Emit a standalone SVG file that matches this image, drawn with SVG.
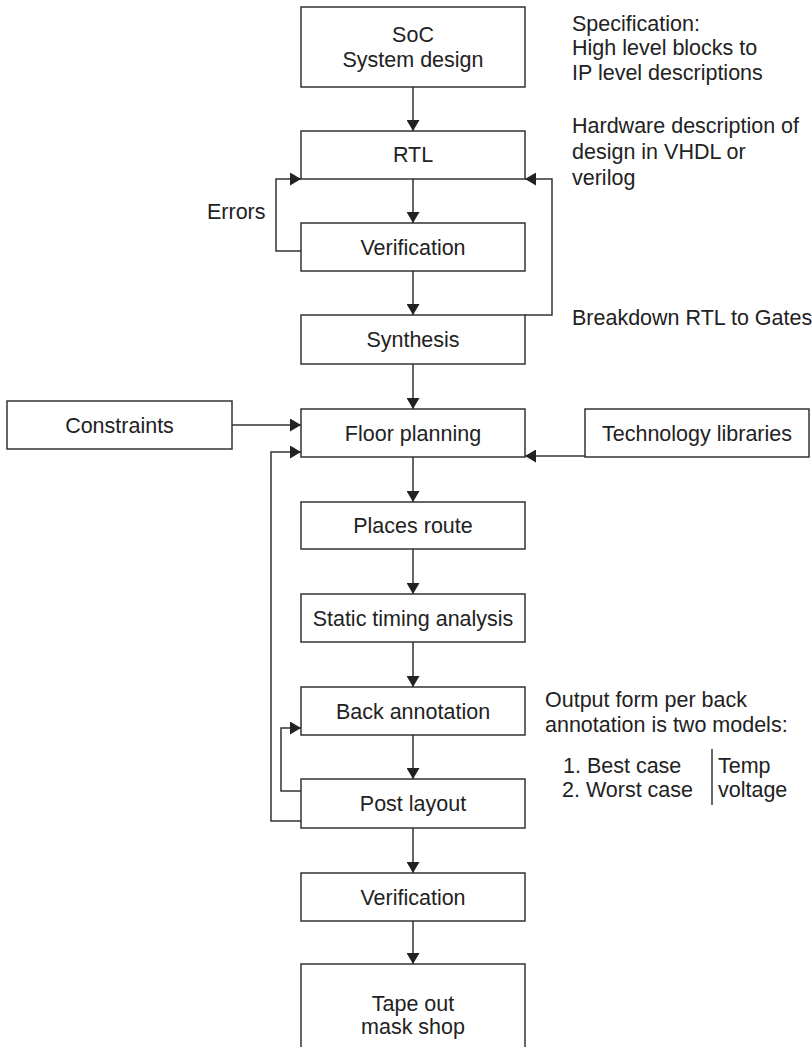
<svg xmlns="http://www.w3.org/2000/svg" width="812" height="1047" viewBox="0 0 812 1047">
  <style>
    .box { fill: #fff; stroke: #333; stroke-width: 1.5; }
    .wire { fill: none; stroke: #333; stroke-width: 1.5; }
    text { font-family: "Liberation Sans", Arial, sans-serif; font-size: 21.5px; fill: #222; }
    .c { text-anchor: middle; }
  </style>
  <defs>
    <marker id="arrow" viewBox="0 0 11 13" refX="11" refY="6.5" markerWidth="11" markerHeight="13" markerUnits="userSpaceOnUse" orient="auto">
      <path d="M0,0 L11,6.5 L0,13 Z" fill="#222"/>
    </marker>
  </defs>
  <rect width="812" height="1047" fill="#fff"/>

  <!-- connectors -->
  <g id="connectors">
    <path class="wire" d="M413,87 V131" marker-end="url(#arrow)"/>
    <path class="wire" d="M413,179 V223" marker-end="url(#arrow)"/>
    <path class="wire" d="M413,271 V315" marker-end="url(#arrow)"/>
    <path class="wire" d="M413,364 V409" marker-end="url(#arrow)"/>
    <path class="wire" d="M413,457 V502" marker-end="url(#arrow)"/>
    <path class="wire" d="M413,549 V594" marker-end="url(#arrow)"/>
    <path class="wire" d="M413,642 V687" marker-end="url(#arrow)"/>
    <path class="wire" d="M413,735 V779" marker-end="url(#arrow)"/>
    <path class="wire" d="M413,828 V873" marker-end="url(#arrow)"/>
    <path class="wire" d="M413,921 V964" marker-end="url(#arrow)"/>
    <!-- error loop from verification back to RTL -->
    <path class="wire" d="M301,251 H276 V179 H301" marker-end="url(#arrow)"/>
    <!-- synthesis back to RTL -->
    <path class="wire" d="M525,315 H552 V179 H525" marker-end="url(#arrow)"/>
    <!-- side inputs to floor planning -->
    <path class="wire" d="M232,425 H301" marker-end="url(#arrow)"/>
    <path class="wire" d="M585,456 H525" marker-end="url(#arrow)"/>
    <!-- post layout feedback loops -->
    <path class="wire" d="M301,821 H271 V452 H301" marker-end="url(#arrow)"/>
    <path class="wire" d="M301,791 H281 V728 H301" marker-end="url(#arrow)"/>
  </g>

  <!-- flow nodes -->
  <g id="soc">
    <rect class="box" x="301" y="7" width="224" height="80"/>
    <text class="c" x="413" y="42">SoC</text>
    <text class="c" x="413" y="67">System design</text>
  </g>
  <g id="rtl">
    <rect class="box" x="301" y="131" width="224" height="48"/>
    <text class="c" x="413" y="162">RTL</text>
  </g>
  <g id="verification">
    <rect class="box" x="301" y="223" width="224" height="48"/>
    <text class="c" x="413" y="255">Verification</text>
  </g>
  <g id="synthesis">
    <rect class="box" x="301" y="315" width="224" height="49"/>
    <text class="c" x="413" y="347">Synthesis</text>
  </g>
  <g id="constraints">
    <rect class="box" x="7" y="401" width="225" height="48"/>
    <text class="c" x="119.5" y="432.5">Constraints</text>
  </g>
  <g id="floor-planning">
    <rect class="box" x="301" y="409" width="224" height="48"/>
    <text class="c" x="413" y="440.5">Floor planning</text>
  </g>
  <g id="technology-libraries">
    <rect class="box" x="585" y="409" width="224" height="48"/>
    <text class="c" x="697" y="440.5">Technology libraries</text>
  </g>
  <g id="places-route">
    <rect class="box" x="301" y="502" width="224" height="47"/>
    <text class="c" x="413" y="533">Places route</text>
  </g>
  <g id="static-timing">
    <rect class="box" x="301" y="594" width="224" height="48"/>
    <text class="c" x="413" y="625.5">Static timing analysis</text>
  </g>
  <g id="back-annotation">
    <rect class="box" x="301" y="687" width="224" height="48"/>
    <text class="c" x="413" y="718.5">Back annotation</text>
  </g>
  <g id="post-layout">
    <rect class="box" x="301" y="779" width="224" height="49"/>
    <text class="c" x="413" y="811">Post layout</text>
  </g>
  <g id="verification-final">
    <rect class="box" x="301" y="873" width="224" height="48"/>
    <text class="c" x="413" y="904.5">Verification</text>
  </g>
  <g id="tape-out">
    <rect class="box" x="301" y="964" width="224" height="100"/>
    <text class="c" x="413" y="1011">Tape out</text>
    <text class="c" x="413" y="1034">mask shop</text>
  </g>

  <!-- annotations -->
  <g id="notes">
    <text x="207" y="219">Errors</text>
    <text x="572" y="31">Specification:</text>
    <text x="572" y="55">High level blocks to</text>
    <text x="572" y="80">IP level descriptions</text>
    <text x="572" y="133">Hardware description of</text>
    <text x="572" y="159">design in VHDL or</text>
    <text x="572" y="185">verilog</text>
    <text x="572" y="325">Breakdown RTL to Gates</text>
    <text x="545" y="707">Output form per back</text>
    <text x="545" y="732">annotation is two models:</text>
    <text x="563" y="773">1. Best case</text>
    <text x="562" y="797">2. Worst case</text>
    <line class="wire" x1="712" y1="749" x2="712" y2="805"/>
    <text x="718" y="773">Temp</text>
    <text x="718" y="797">voltage</text>
  </g>
</svg>
